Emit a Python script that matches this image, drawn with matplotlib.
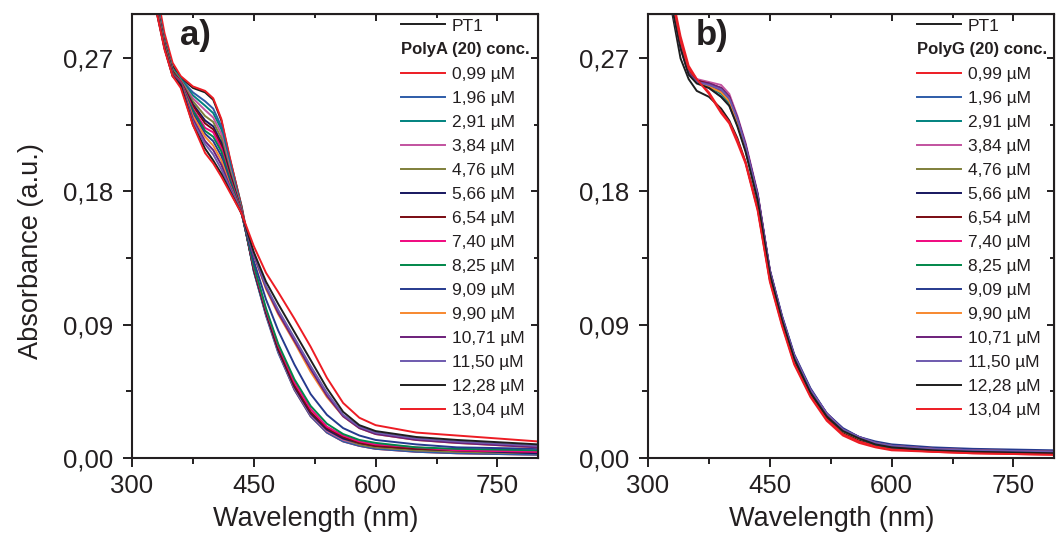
import matplotlib.pyplot as plt
from matplotlib.lines import Line2D
from matplotlib.ticker import MultipleLocator, FuncFormatter
import numpy as np

plt.rcParams['font.family'] = ['Liberation Sans', 'DejaVu Sans']

wl = [300, 330, 340, 350, 360, 375, 390, 400, 410, 420, 435, 450, 465, 480, 500, 520, 540, 560, 580, 600, 650, 700, 800]

series_labels = ['PT1', '0,99 µM', '1,96 µM', '2,91 µM', '3,84 µM', '4,76 µM', '5,66 µM', '6,54 µM',
                 '7,40 µM', '8,25 µM', '9,09 µM', '9,90 µM', '10,71 µM', '11,50 µM', '12,28 µM', '13,04 µM']
colors = ['#1e1e1e', '#ed1c24', '#2e5ca8', '#00827f', '#c2529f', '#7f7f3a', '#16165f', '#7a0a12',
          '#f0087f', '#00874a', '#263a8e', '#f7882f', '#6d1f7a', '#6e5aae', '#1e1e1e', '#ed1c24']

# panel a) PT1 + PolyA (20)
abs_a = [
    [0.410, 0.312, 0.284, 0.265, 0.257, 0.250, 0.247, 0.242, 0.228, 0.203, 0.170, 0.128, 0.098, 0.073, 0.047, 0.029, 0.018, 0.012, 0.009, 0.007, 0.005, 0.004, 0.003],
    [0.415, 0.316, 0.287, 0.267, 0.258, 0.251, 0.248, 0.243, 0.229, 0.204, 0.169, 0.127, 0.097, 0.072, 0.046, 0.028, 0.017, 0.011, 0.008, 0.006, 0.004, 0.003, 0.002],
    [0.408, 0.310, 0.282, 0.263, 0.256, 0.247, 0.241, 0.236, 0.224, 0.201, 0.168, 0.126, 0.096, 0.071, 0.046, 0.028, 0.017, 0.011, 0.008, 0.006, 0.004, 0.003, 0.002],
    [0.407, 0.309, 0.282, 0.263, 0.256, 0.245, 0.238, 0.233, 0.222, 0.199, 0.168, 0.126, 0.097, 0.072, 0.047, 0.029, 0.018, 0.012, 0.009, 0.007, 0.005, 0.004, 0.003],
    [0.406, 0.308, 0.281, 0.262, 0.255, 0.243, 0.235, 0.230, 0.219, 0.197, 0.167, 0.127, 0.097, 0.072, 0.047, 0.029, 0.018, 0.012, 0.009, 0.007, 0.005, 0.004, 0.003],
    [0.405, 0.307, 0.281, 0.262, 0.255, 0.241, 0.231, 0.227, 0.216, 0.195, 0.167, 0.127, 0.098, 0.073, 0.048, 0.030, 0.019, 0.013, 0.009, 0.007, 0.005, 0.004, 0.003],
    [0.404, 0.306, 0.280, 0.261, 0.254, 0.239, 0.228, 0.224, 0.213, 0.193, 0.166, 0.127, 0.098, 0.073, 0.048, 0.030, 0.019, 0.013, 0.010, 0.008, 0.006, 0.005, 0.003],
    [0.404, 0.306, 0.280, 0.261, 0.254, 0.238, 0.226, 0.222, 0.211, 0.192, 0.166, 0.128, 0.099, 0.074, 0.049, 0.031, 0.020, 0.014, 0.010, 0.008, 0.006, 0.005, 0.004],
    [0.403, 0.305, 0.279, 0.260, 0.254, 0.236, 0.223, 0.220, 0.209, 0.190, 0.166, 0.129, 0.100, 0.076, 0.051, 0.033, 0.021, 0.015, 0.011, 0.009, 0.007, 0.005, 0.004],
    [0.403, 0.305, 0.279, 0.260, 0.253, 0.235, 0.221, 0.217, 0.207, 0.189, 0.165, 0.130, 0.101, 0.077, 0.053, 0.035, 0.023, 0.016, 0.012, 0.010, 0.007, 0.006, 0.005],
    [0.402, 0.304, 0.278, 0.259, 0.253, 0.233, 0.219, 0.214, 0.204, 0.187, 0.165, 0.133, 0.107, 0.086, 0.063, 0.043, 0.029, 0.020, 0.015, 0.012, 0.009, 0.007, 0.006],
    [0.402, 0.304, 0.278, 0.259, 0.253, 0.231, 0.217, 0.211, 0.201, 0.185, 0.165, 0.137, 0.114, 0.097, 0.078, 0.058, 0.041, 0.028, 0.020, 0.016, 0.012, 0.010, 0.007],
    [0.401, 0.303, 0.277, 0.259, 0.253, 0.229, 0.214, 0.208, 0.198, 0.184, 0.165, 0.137, 0.115, 0.098, 0.079, 0.060, 0.042, 0.028, 0.020, 0.016, 0.012, 0.010, 0.007],
    [0.401, 0.303, 0.277, 0.258, 0.252, 0.227, 0.212, 0.205, 0.195, 0.183, 0.165, 0.138, 0.116, 0.100, 0.081, 0.062, 0.044, 0.029, 0.021, 0.017, 0.013, 0.011, 0.008],
    [0.400, 0.302, 0.277, 0.258, 0.252, 0.225, 0.209, 0.201, 0.192, 0.181, 0.165, 0.139, 0.119, 0.104, 0.085, 0.066, 0.047, 0.031, 0.022, 0.018, 0.014, 0.012, 0.009],
    [0.400, 0.302, 0.276, 0.258, 0.250, 0.225, 0.206, 0.199, 0.190, 0.180, 0.165, 0.143, 0.125, 0.112, 0.094, 0.075, 0.054, 0.037, 0.027, 0.022, 0.017, 0.015, 0.011],
]

# panel b) PT1 + PolyG (20)
abs_b = [
    [0.400, 0.300, 0.270, 0.256, 0.248, 0.244, 0.236, 0.228, 0.216, 0.200, 0.169, 0.121, 0.091, 0.065, 0.043, 0.027, 0.017, 0.012, 0.009, 0.007, 0.005, 0.004, 0.003],
    [0.410, 0.312, 0.285, 0.265, 0.256, 0.247, 0.234, 0.227, 0.215, 0.200, 0.168, 0.120, 0.090, 0.064, 0.042, 0.026, 0.016, 0.011, 0.008, 0.006, 0.004, 0.003, 0.002],
    [0.405, 0.306, 0.280, 0.261, 0.254, 0.250, 0.244, 0.238, 0.225, 0.208, 0.175, 0.125, 0.094, 0.068, 0.045, 0.029, 0.019, 0.013, 0.010, 0.008, 0.006, 0.005, 0.004],
    [0.406, 0.308, 0.281, 0.262, 0.255, 0.251, 0.246, 0.240, 0.226, 0.209, 0.176, 0.125, 0.094, 0.068, 0.045, 0.029, 0.018, 0.013, 0.010, 0.008, 0.006, 0.005, 0.004],
    [0.404, 0.306, 0.280, 0.262, 0.256, 0.254, 0.252, 0.246, 0.231, 0.213, 0.179, 0.127, 0.095, 0.069, 0.046, 0.029, 0.019, 0.013, 0.010, 0.008, 0.006, 0.005, 0.004],
    [0.404, 0.305, 0.279, 0.261, 0.255, 0.252, 0.248, 0.242, 0.228, 0.210, 0.177, 0.126, 0.094, 0.068, 0.045, 0.029, 0.018, 0.013, 0.010, 0.008, 0.006, 0.005, 0.004],
    [0.404, 0.305, 0.279, 0.261, 0.255, 0.252, 0.248, 0.243, 0.229, 0.211, 0.177, 0.126, 0.095, 0.069, 0.046, 0.030, 0.019, 0.014, 0.010, 0.008, 0.006, 0.005, 0.004],
    [0.404, 0.305, 0.279, 0.261, 0.255, 0.253, 0.250, 0.244, 0.229, 0.211, 0.177, 0.126, 0.094, 0.068, 0.045, 0.029, 0.018, 0.013, 0.010, 0.008, 0.006, 0.005, 0.004],
    [0.403, 0.305, 0.278, 0.260, 0.254, 0.252, 0.248, 0.242, 0.228, 0.210, 0.176, 0.125, 0.094, 0.068, 0.045, 0.029, 0.018, 0.013, 0.009, 0.007, 0.006, 0.005, 0.004],
    [0.403, 0.304, 0.278, 0.260, 0.254, 0.251, 0.247, 0.241, 0.227, 0.209, 0.176, 0.125, 0.094, 0.068, 0.045, 0.029, 0.018, 0.013, 0.009, 0.007, 0.006, 0.005, 0.004],
    [0.403, 0.304, 0.278, 0.260, 0.254, 0.252, 0.249, 0.243, 0.229, 0.211, 0.178, 0.127, 0.096, 0.070, 0.047, 0.030, 0.020, 0.014, 0.011, 0.009, 0.007, 0.006, 0.005],
    [0.403, 0.304, 0.278, 0.260, 0.254, 0.251, 0.247, 0.241, 0.227, 0.209, 0.176, 0.125, 0.094, 0.068, 0.045, 0.029, 0.018, 0.013, 0.010, 0.008, 0.006, 0.005, 0.004],
    [0.403, 0.304, 0.278, 0.260, 0.254, 0.253, 0.250, 0.244, 0.230, 0.212, 0.178, 0.126, 0.095, 0.069, 0.046, 0.030, 0.019, 0.014, 0.010, 0.008, 0.006, 0.005, 0.004],
    [0.402, 0.303, 0.277, 0.259, 0.254, 0.252, 0.249, 0.243, 0.229, 0.211, 0.177, 0.126, 0.095, 0.069, 0.046, 0.030, 0.019, 0.014, 0.010, 0.008, 0.006, 0.005, 0.004],
    [0.402, 0.303, 0.277, 0.259, 0.253, 0.250, 0.244, 0.238, 0.224, 0.207, 0.174, 0.124, 0.093, 0.067, 0.044, 0.028, 0.018, 0.013, 0.009, 0.007, 0.005, 0.004, 0.003],
    [0.408, 0.310, 0.282, 0.263, 0.256, 0.246, 0.233, 0.226, 0.213, 0.199, 0.167, 0.119, 0.089, 0.063, 0.041, 0.025, 0.015, 0.010, 0.007, 0.005, 0.004, 0.003, 0.002],
]

panels = [('a)', 'PolyA (20) conc.', abs_a), ('b)', 'PolyG (20) conc.', abs_b)]

ink = '#231f20'
fig = plt.figure(figsize=(10.57, 5.40), dpi=100)
axes = [fig.add_axes([0.1249, 0.1524, 0.3841, 0.8217]),
        fig.add_axes([0.6131, 0.1524, 0.3841, 0.8217])]

comma = FuncFormatter(lambda v, p: f'{v:.2f}'.replace('.', ','))

for ax, (tag, title, data) in zip(axes, panels):
    for vals, col, lab in zip(data, colors, series_labels):
        ax.plot(wl, vals, color=col, lw=1.4, label=lab)

    ax.set_xlim(300, 800)
    ax.set_ylim(0, 0.30)
    ax.xaxis.set_major_locator(MultipleLocator(150))
    ax.xaxis.set_minor_locator(MultipleLocator(75))
    ax.yaxis.set_major_locator(MultipleLocator(0.09))
    ax.yaxis.set_minor_locator(MultipleLocator(0.045))
    ax.yaxis.set_major_formatter(comma)
    ax.tick_params(which='both', direction='out', width=1.4, colors=ink, labelsize=18.5)
    ax.tick_params(axis='x', pad=5)
    ax.tick_params(axis='y', pad=7)
    ax.tick_params(which='major', length=6.5)
    ax.tick_params(which='minor', length=4)
    for s in ax.spines.values():
        s.set_linewidth(1.5)
        s.set_color(ink)

    # inward ticks on top and right like Origin
    top = ax.secondary_xaxis('top')
    top.xaxis.set_major_locator(MultipleLocator(150))
    top.xaxis.set_minor_locator(MultipleLocator(75))
    top.tick_params(which='both', direction='in', width=1.4, colors=ink, labeltop=False)
    top.tick_params(which='major', length=5)
    top.tick_params(which='minor', length=3)
    right = ax.secondary_yaxis('right')
    right.yaxis.set_major_locator(MultipleLocator(0.09))
    right.yaxis.set_minor_locator(MultipleLocator(0.045))
    right.tick_params(which='both', direction='in', width=1.4, colors=ink, labelright=False)
    right.tick_params(which='major', length=5)
    right.tick_params(which='minor', length=3)

    ax.set_xlabel('Wavelength (nm)', fontsize=19.5, color=ink, labelpad=6, x=0.453)

    ax.text(0.118, 0.952, tag, transform=ax.transAxes, fontsize=25, fontweight='bold',
            color=ink, ha='left', va='center')

    handles, labels = ax.get_legend_handles_labels()
    handles.insert(1, Line2D([], [], color='none'))
    labels.insert(1, ' ')
    ax.legend(handles, labels, loc='upper left', bbox_to_anchor=(0.663, 0.990), frameon=False,
              fontsize=12.5, labelcolor=ink, handlelength=2.5, handletextpad=0.4,
              labelspacing=0.51, borderpad=0, borderaxespad=0)
    ax.text(0.663, 0.920, title, transform=ax.transAxes, fontsize=12, fontweight='bold',
            color=ink, ha='left', va='center')

axes[0].set_ylabel('Absorbance (a.u.)', fontsize=19.5, color=ink, labelpad=14, y=0.466)

fig.savefig('out.png', dpi=100)
